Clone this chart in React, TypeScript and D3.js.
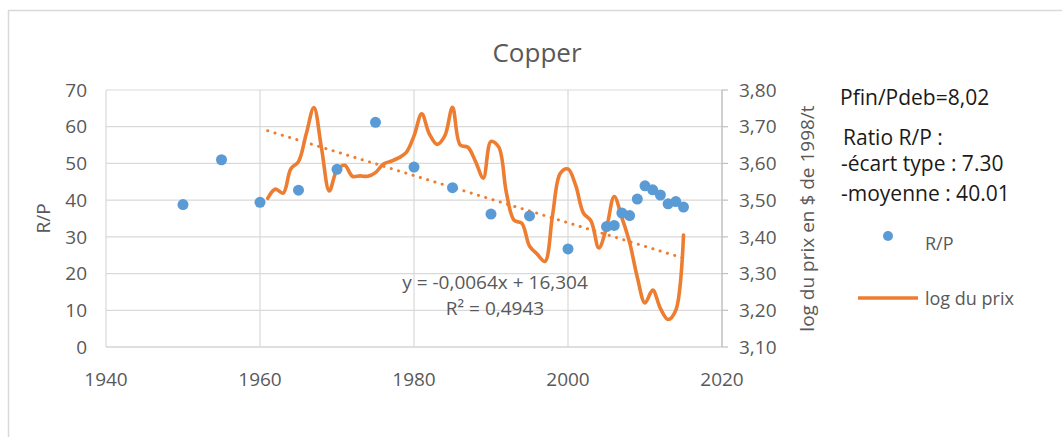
import React from 'react';
import * as d3 from 'd3';

const xTicks = [1940, 1960, 1980, 2000, 2020];
const leftTicks = [0, 10, 20, 30, 40, 50, 60, 70];
const rightTicks = [3.1, 3.2, 3.3, 3.4, 3.5, 3.6, 3.7, 3.8];

const rpYears = [1950, 1955, 1960, 1965, 1970, 1975, 1980, 1985, 1990, 1995, 2000, 2005, 2006, 2007, 2008, 2009, 2010, 2011, 2012, 2013, 2014, 2015];
const rpValues = [38.8, 51, 39.4, 42.7, 48.4, 61.2, 49, 43.4, 36.2, 35.7, 26.7, 32.8, 33.1, 36.5, 35.8, 40.3, 43.9, 42.8, 41.4, 39, 39.6, 38.1];

const priceYears = [
  1961, 1962, 1963, 1964, 1965, 1966, 1967, 1968, 1969, 1970,
  1971, 1972, 1973, 1974, 1975, 1976, 1977, 1978, 1979, 1980,
  1981, 1982, 1983, 1984, 1985, 1986, 1987, 1988, 1989, 1990,
  1991, 1992, 1993, 1994, 1995, 1996, 1997, 1998, 1999, 2000,
  2001, 2002, 2003, 2004, 2005, 2006, 2007, 2008, 2009, 2010,
  2011, 2012, 2013, 2014, 2015,
];
const priceValues = [
  3.505, 3.53, 3.519, 3.585, 3.605, 3.68, 3.752, 3.64, 3.525, 3.582,
  3.595, 3.565, 3.566, 3.565, 3.575, 3.598, 3.606, 3.615, 3.63, 3.675,
  3.735, 3.68, 3.652, 3.675, 3.753, 3.65, 3.644, 3.605, 3.56, 3.66,
  3.645, 3.52, 3.445, 3.437, 3.375, 3.353, 3.333, 3.46, 3.573, 3.585,
  3.54, 3.465, 3.443, 3.37, 3.425, 3.51, 3.452, 3.385, 3.29, 3.22,
  3.255, 3.205, 3.175, 3.2, 3.405,
];

const trendYears = [1961, 2015];
const trendValues = [3.689, 3.342];

const statLines = ['Pfin/Pdeb=8,02', 'Ratio R/P :', '-écart type : 7.30', '-moyenne : 40.01'];

const FONT = "'Open Sans', sans-serif";
const GRID = '#d9d9d9';
const AXIS = '#bfbfbf';
const TXT = '#595959';
const BLUE = '#5B9BD5';
const ORANGE = '#ED7D31';

export default function App() {
  const x = d3.scaleLinear().domain([1940, 2020]).range([106, 722]);
  const yL = d3.scaleLinear().domain([0, 70]).range([347, 90]);
  const yR = d3.scaleLinear().domain([3.1, 3.8]).range([347, 90]);

  const priceData = priceYears.map((yr, i) => [yr, priceValues[i]] as [number, number]);
  const priceLine = d3
    .line<[number, number]>()
    .x((d) => x(d[0]))
    .y((d) => yR(d[1]))
    .curve(d3.curveCatmullRom.alpha(0.5));

  const trendData = trendYears.map((yr, i) => [yr, trendValues[i]] as [number, number]);
  const trendLine = d3
    .line<[number, number]>()
    .x((d) => x(d[0]))
    .y((d) => yR(d[1]));

  const fmtR = (v: number) => v.toFixed(2).replace('.', ',');

  return (
    <svg
      width={1062}
      height={437}
      style={{ position: 'absolute', left: 0, top: 0, background: '#fff' }}
      fontFamily={FONT}
    >
      <rect x={0} y={0} width={1062} height={437} fill="#fff" />
      <rect x={8.5} y={10.5} width={1200} height={1000} fill="none" stroke={GRID} strokeWidth={1.5} />

      <text x={537} y={62} textAnchor="middle" fontSize={26} fill={TXT}>
        Copper
      </text>

      {/* horizontal grid */}
      {leftTicks.map((t) => (
        <line key={'h' + t} x1={x(1940)} x2={x(2020)} y1={yL(t)} y2={yL(t)} stroke={t === 0 ? AXIS : GRID} strokeWidth={1.2} />
      ))}
      {/* vertical grid */}
      {xTicks.map((t) => (
        <line key={'v' + t} x1={x(t)} x2={x(t)} y1={yL(70)} y2={yL(0)} stroke={GRID} strokeWidth={1.2} />
      ))}
      {/* right axis */}
      <line x1={x(2020)} x2={x(2020)} y1={yR(3.8)} y2={yR(3.1)} stroke={AXIS} strokeWidth={1.2} />
      {rightTicks.map((t) => (
        <line key={'rt' + t} x1={x(2020)} x2={x(2020) + 6} y1={yR(t)} y2={yR(t)} stroke={AXIS} strokeWidth={1.2} />
      ))}

      {/* tick labels */}
      {leftTicks.map((t) => (
        <text key={'lt' + t} x={87} y={yL(t)} dy="0.35em" textAnchor="end" fontSize={19} fill={TXT}>
          {t}
        </text>
      ))}
      {rightTicks.map((t) => (
        <text key={'rl' + t} x={739} y={yR(t)} dy="0.35em" textAnchor="start" fontSize={19} fill={TXT}>
          {fmtR(t)}
        </text>
      ))}
      {xTicks.map((t) => (
        <text key={'xl' + t} x={x(t)} y={386} textAnchor="middle" fontSize={19} fill={TXT}>
          {t}
        </text>
      ))}

      {/* axis titles */}
      <text transform={`translate(50,${yL(35)}) rotate(-90)`} textAnchor="middle" fontSize={19} fill={TXT}>
        R/P
      </text>
      <text transform={`translate(814,${yL(35)}) rotate(-90)`} textAnchor="middle" fontSize={19} fill={TXT}>
        log du prix en $ de 1998/t
      </text>

      {/* trend line */}
      <path d={trendLine(trendData) || ''} fill="none" stroke={ORANGE} strokeWidth={3} strokeDasharray="0.1 7.5" strokeLinecap="round" />

      {/* price line */}
      <path d={priceLine(priceData) || ''} fill="none" stroke={ORANGE} strokeWidth={3.6} strokeLinejoin="round" strokeLinecap="round" />

      {/* R/P dots */}
      {rpYears.map((yr, i) => (
        <circle key={'d' + yr} cx={x(yr)} cy={yL(rpValues[i])} r={5.5} fill={BLUE} />
      ))}

      {/* equation */}
      <text x={495} y={289} textAnchor="middle" fontSize={19} fill={TXT}>
        y = -0,0064x + 16,304
      </text>
      <text x={495} y={315} textAnchor="middle" fontSize={19} fill={TXT}>
        R² = 0,4943
      </text>

      {/* stats block */}
      <text x={840} y={105} fontSize={21} fill="#1a1a1a">{statLines[0]}</text>
      <text x={843} y={145} fontSize={21} fill="#1a1a1a">{statLines[1]}</text>
      <text x={841} y={171} fontSize={21} fill="#1a1a1a">{statLines[2]}</text>
      <text x={841} y={201} fontSize={21} fill="#1a1a1a">{statLines[3]}</text>

      {/* legend */}
      <circle cx={888} cy={236} r={5} fill={BLUE} />
      <text x={925} y={250} fontSize={18} fill={TXT}>R/P</text>
      <line x1={858} x2={918} y1={298} y2={298} stroke={ORANGE} strokeWidth={3.5} />
      <text x={925} y={305} fontSize={18} fill={TXT}>log du prix</text>
    </svg>
  );
}
